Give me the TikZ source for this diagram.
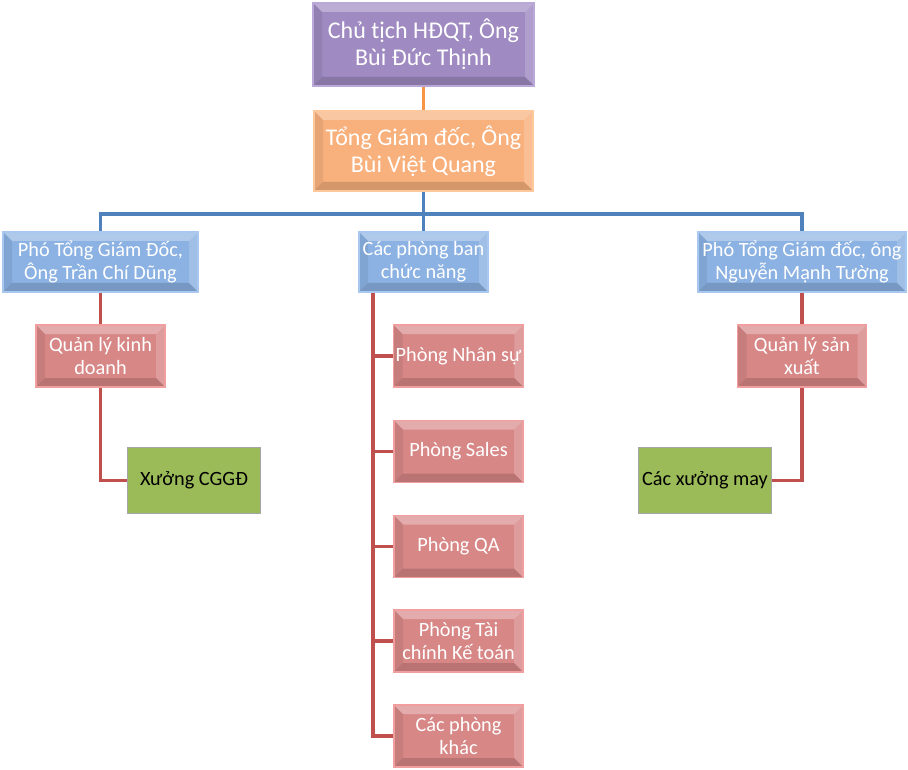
\documentclass[tikz,border=0pt]{standalone}
\usepackage{fontspec}
\setmainfont{Carlito}
\usetikzlibrary{positioning}
\definecolor{chairfill}{HTML}{9F8AC1}
\definecolor{chairedge}{HTML}{B9A8D8}
\definecolor{ceofill}{HTML}{F8B07C}
\definecolor{ceoedge}{HTML}{FCC89C}
\definecolor{deputyfill}{HTML}{8BB2E2}
\definecolor{deputyedge}{HTML}{A8C8F0}
\definecolor{deptfill}{HTML}{D88787}
\definecolor{deptedge}{HTML}{F09E9E}
\definecolor{shopfill}{HTML}{9BBB59}
\definecolor{orangeline}{HTML}{F79646}
\definecolor{blueline}{HTML}{4F81BD}
\definecolor{redline}{HTML}{C0504D}
\tikzset{
    bevel/.style={
           path picture={
             \fill[white,opacity=0.3] (path picture bounding box.north west)
               -- (path picture bounding box.north east)
               -- ([shift={(-9pt,-9pt)}]path picture bounding box.north east)
               -- ([shift={(9pt,-9pt)}]path picture bounding box.north west) -- cycle;
             \fill[white,opacity=0.18] (path picture bounding box.north east)
               -- (path picture bounding box.south east)
               -- ([shift={(-9pt,9pt)}]path picture bounding box.south east)
               -- ([shift={(-9pt,-9pt)}]path picture bounding box.north east) -- cycle;
             \fill[black,opacity=0.14] (path picture bounding box.south west)
               -- (path picture bounding box.south east)
               -- ([shift={(-9pt,9pt)}]path picture bounding box.south east)
               -- ([shift={(9pt,9pt)}]path picture bounding box.south west) -- cycle;
             \fill[black,opacity=0.07] (path picture bounding box.north west)
               -- (path picture bounding box.south west)
               -- ([shift={(9pt,9pt)}]path picture bounding box.south west)
               -- ([shift={(9pt,-9pt)}]path picture bounding box.north west) -- cycle;
           },
           },
    orgbox/.style={
           rectangle,
           bevel,
           line width=1.5pt,
           text=white,
           align=center,
           inner sep=2pt,
           },
    boss/.style={
           orgbox, fill=chairfill, draw=chairedge,
           minimum width=221pt, minimum height=83pt,
           font=\fontsize{24}{27}\selectfont,
           },
    ceo/.style={
           orgbox, fill=ceofill, draw=ceoedge,
           minimum width=219pt, minimum height=80pt,
           font=\fontsize{24}{27}\selectfont,
           },
    deputy/.style={
           orgbox, fill=deputyfill, draw=deputyedge,
           minimum height=60pt,
           font=\fontsize{20.3}{23}\selectfont,
           },
    dept/.style={
           orgbox, fill=deptfill, draw=deptedge,
           minimum width=129pt, minimum height=62pt,
           font=\fontsize{20.3}{23}\selectfont,
           },
    workshop/.style={
           rectangle, fill=shopfill, draw=black!35, line width=1pt,
           minimum width=133pt, minimum height=66pt,
           align=center, inner sep=2pt,
           font=\fontsize{20.3}{23}\selectfont,
           },
    link/.style={line width=3.6pt},
}

\begin{document}
\begin{tikzpicture}[x=1pt,y=-1pt]
 \useasboundingbox (0,0) rectangle (908,770);

 % top of the chart
 \node[boss] (chair) at (423.5,44.5)
 {Chủ tịch HĐQT, Ông\\Bùi Đức Thịnh};

 \node[ceo,
 below of=chair,
 node distance=106.5pt] (ceo)
 {Tổng Giám đốc, Ông\\Bùi Việt Quang};

 % second row: deputies and departments
 \node[deputy,
 below of=ceo,
 node distance=111pt,
 minimum width=129pt] (depts)
 {Các phòng ban\\chức năng};

 \node[deputy,
 left of=depts,
 node distance=323pt,
 minimum width=195pt] (salesvp)
 {Phó Tổng Giám Đốc,\\Ông Trần Chí Dũng};

 \node[deputy,
 right of=depts,
 node distance=378.5pt,
 minimum width=208pt] (prodvp)
 {Phó Tổng Giám đốc, ông\\Nguyễn Mạnh Tường};

 % left branch
 \node[dept, below of=salesvp, node distance=94pt] (salesmgr)
 {Quản lý kinh\\doanh};
 \node[workshop, below of=salesmgr, node distance=124.5pt, xshift=93.5pt] (cggd)
 {Xưởng CGGĐ};

 % right branch
 \node[dept, below of=prodvp, node distance=94pt] (prodmgr)
 {Quản lý sản\\xuất};
 \node[workshop, below of=prodmgr, node distance=124.5pt, xshift=-97pt] (sewing)
 {Các xưởng may};

 % departments
 \node[dept, below of=depts, node distance=94pt, xshift=35pt] (hr) {Phòng Nhân sự};
 \node[dept, below of=hr, node distance=95.5pt] (sales) {Phòng Sales};
 \node[dept, below of=sales, node distance=95pt] (qa) {Phòng QA};
 \node[dept, below of=qa, node distance=94.5pt] (finance) {Phòng Tài\\chính Kế toán};
 \node[dept, below of=finance, node distance=95pt] (others) {Các phòng\\khác};

 % connectors
 \draw[link, orangeline] (chair) -- (ceo);
 \draw[link, blueline] (ceo.south) -- ++(0,22) -| (salesvp.north)
       (ceo.south) -- ++(0,22) -| (prodvp.north)
       (ceo.south) -- (depts.north);
 \draw[link, redline] (salesvp) -- (salesmgr)
       (salesmgr.south) |- (cggd.west)
       (prodvp) -- (prodmgr)
       (prodmgr.south) |- (sewing.east);
 \foreach \d in {hr,sales,qa,finance,others}
   \draw[link, redline] ([xshift=15pt]depts.south west) |- (\d.west);
\end{tikzpicture}
\end{document}
